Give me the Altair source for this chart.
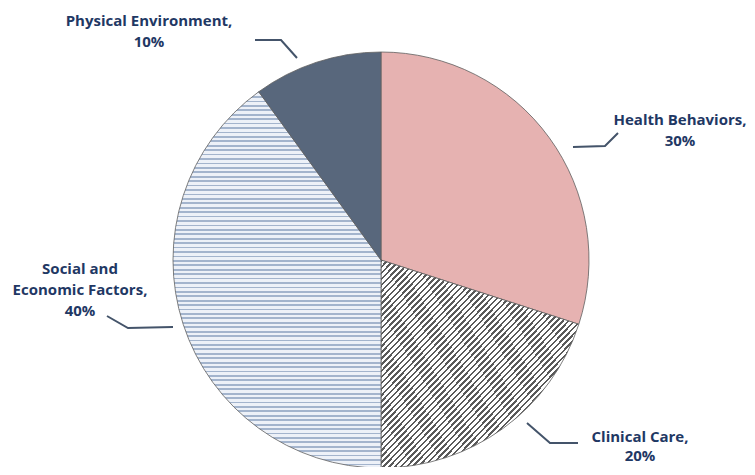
import math
import altair as alt
import pandas as pd

# ---- data -------------------------------------------------------------
categories = ["Health Behaviors", "Clinical Care",
              "Social and Economic Factors", "Physical Environment"]
shares = [30, 20, 40, 10]
label_lines = [["Health Behaviors,", "30%"],
               ["Clinical Care,", "20%"],
               ["Social and", "Economic Factors,", "40%"],
               ["Physical Environment,", "10%"]]

# ---- layout (pixel frame, centre of pie = 0,0, y up) -----------------
W, H = 739, 459
CX, CY = 373, 252
R = 208
label_anchor = {  # first-line baseline position of each label
    "Health Behaviors": (299, 135),
    "Clinical Care": (259, -182),
    "Social and Economic Factors": (-301, -14),
    "Physical Environment": (-232, 234),
}
label_line_height = {"Health Behaviors": 21, "Clinical Care": 19,
                     "Social and Economic Factors": 21, "Physical Environment": 21}
leader_pts = {
    "Health Behaviors": [(192, 113), (224, 114), (237, 127)],
    "Clinical Care": [(146, -163), (169, -183), (197, -183)],
    "Social and Economic Factors": [(-274, -56), (-253, -68), (-208, -67)],
    "Physical Environment": [(-126, 220), (-100, 220), (-84, 202)],
}

ends = []
acc = 0
for s in shares:
    acc += s
    ends.append(acc)
starts = [e - s for e, s in zip(ends, shares)]
slices = pd.DataFrame({"category": categories, "share": shares,
                       "start": starts, "end": ends, "cx": 0, "cy": 0})

labels = pd.DataFrame({
    "category": categories,
    "text": ["\n".join(l) for l in label_lines],
    "x": [label_anchor[c][0] for c in categories],
    "y": [label_anchor[c][1] for c in categories],
})
rows = []
for c in categories:
    for i, (x, y) in enumerate(leader_pts[c]):
        rows.append({"category": c, "i": i, "x": x, "y": y})
leaders = pd.DataFrame(rows)

xs = alt.Scale(domain=[-CX, W - CX], zero=False, nice=False)
ys = alt.Scale(domain=[-(H - CY), CY], zero=False, nice=False)
ts = alt.Scale(domain=[0, 100], range=[0, 2 * math.pi])


def stripes(c_line, c_gap, n, frac, x1, y1, x2, y2):
    stops = []
    p = 1.0 / n
    for k in range(n):
        a = k * p
        b = a + p * frac
        stops += [alt.GradientStop(offset=round(a, 5), color=c_line),
                  alt.GradientStop(offset=round(b, 5), color=c_line),
                  alt.GradientStop(offset=round(b, 5), color=c_gap),
                  alt.GradientStop(offset=round(a + p, 5), color=c_gap)]
    return alt.Gradient(gradient="linear", stops=stops,
                        x1=x1, y1=y1, x2=x2, y2=y2)


fills = {
    "Health Behaviors": "#E6B2B1",
    "Clinical Care": stripes("#5A5A5A", "#FFFFFF", 68, 0.42, 0, 0, 1, 1),
    "Social and Economic Factors": stripes("#A3B4CD", "#EDF1F8", 85, 0.4, 0, 0, 0, 1),
    "Physical Environment": "#58677C",
}

base = alt.Chart(slices)
arcs = []
for c in categories:
    arcs.append(
        base.transform_filter(alt.datum.category == c)
        .mark_arc(radius=R, fill=fills[c], stroke="#5F5F5F", strokeWidth=0.8)
        .encode(
            x=alt.X("cx:Q", scale=xs, axis=None),
            y=alt.Y("cy:Q", scale=ys, axis=None),
            theta=alt.Theta("start:Q", scale=ts),
            theta2=alt.Theta2("end:Q"),
        )
    )

lines = alt.Chart(leaders).mark_line(color="#44546A", strokeWidth=2).encode(
    x=alt.X("x:Q", scale=xs, axis=None),
    y=alt.Y("y:Q", scale=ys, axis=None),
    detail="category:N",
    order="i:Q",
)

texts = []
for c in categories:
    texts.append(
        alt.Chart(labels).transform_filter(alt.datum.category == c).mark_text(
            font="Open Sans", fontWeight="bold", fontSize=15, color="#1F3864",
            align="center", baseline="alphabetic", lineBreak="\n",
            lineHeight=label_line_height[c],
        ).encode(
            x=alt.X("x:Q", scale=xs, axis=None),
            y=alt.Y("y:Q", scale=ys, axis=None),
            text="text:N",
        )
    )

chart = alt.layer(*arcs, lines, *texts).properties(
    width=W, height=H, padding=0, autosize="none", background="white"
).configure_view(stroke=None)

chart.save("out.html", embed_options={"renderer": "svg", "actions": False})
